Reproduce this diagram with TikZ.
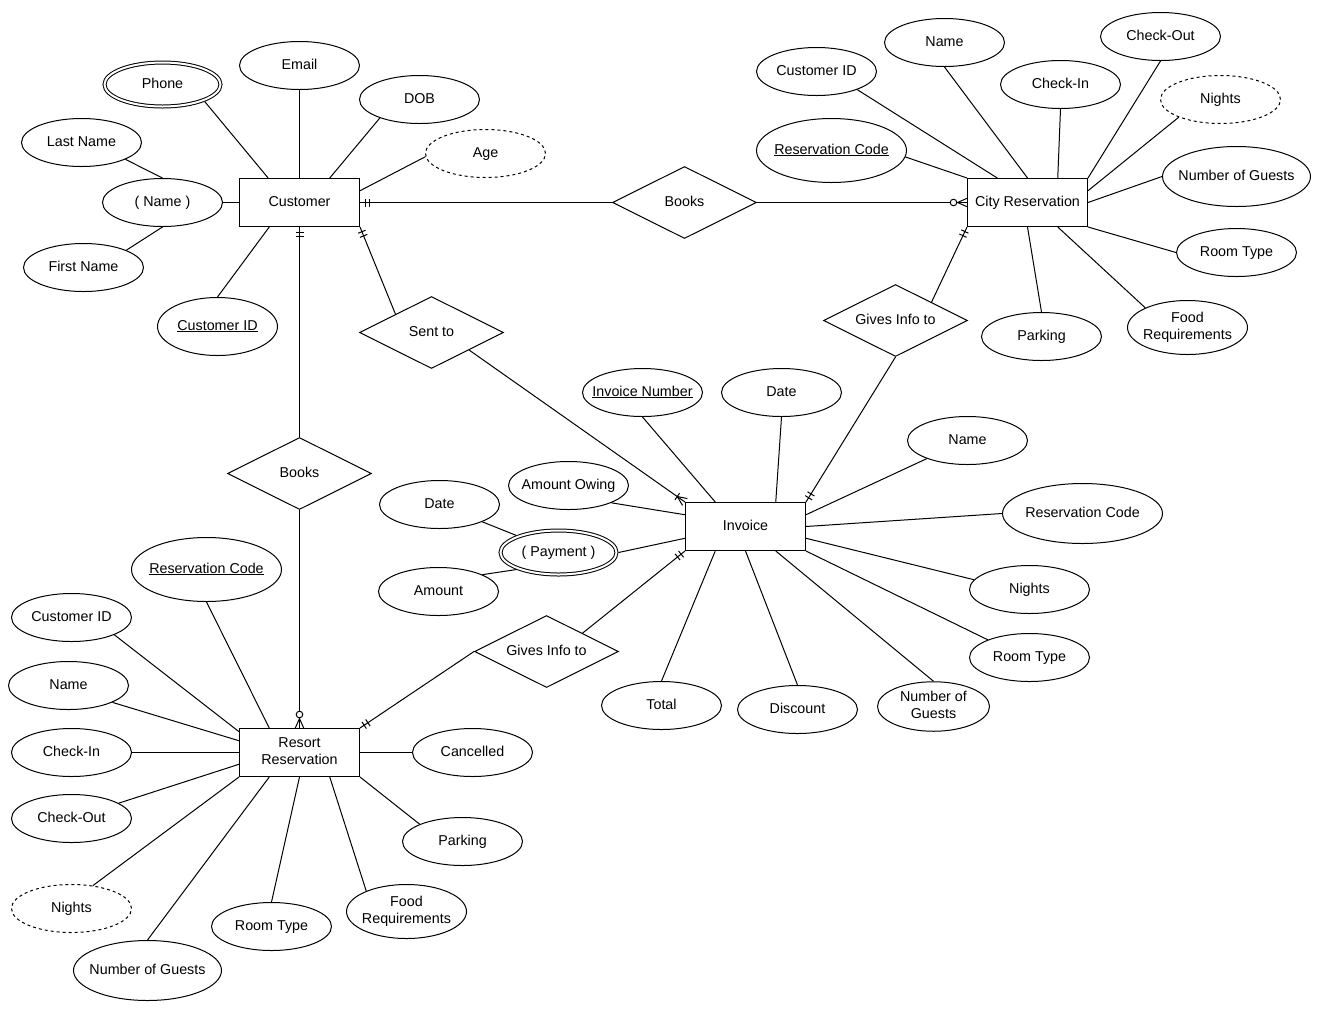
\documentclass[tikz,border=0pt]{standalone}
\usepackage{fontspec}
\setmainfont{Liberation Sans}
\usetikzlibrary{shapes.geometric,decorations.markings}
\newcommand\ntext[1]{\raisebox{-1.5pt}{\makebox[0pt]{\begin{tabular}{@{}c@{}}#1\end{tabular}}}}
\begin{document}
\begin{tikzpicture}[x=1pt,y=-1pt,line width=1pt,
  every node/.style={font=\fontsize{14.3}{17.5}\selectfont},
  ent/.style={draw,rectangle,minimum width=120pt,minimum height=48pt,inner sep=0pt},
  rel/.style={draw,diamond,aspect=2,minimum width=144pt,minimum height=72pt,inner sep=0pt},
  att/.style={draw,ellipse,minimum width=120pt,minimum height=48pt,inner sep=0pt},
  multi/.style={att,double,double distance=2pt,minimum width=116pt,minimum height=44pt,outer sep=2pt},
  derived/.style={att,dash pattern=on 3pt off 3pt},
  oneend/.style={postaction={decorate,decoration={markings,mark=at position 1 with {\draw[line width=1pt] (-5pt,-4pt)--(-5pt,4pt) (-9.5pt,-4pt)--(-9.5pt,4pt);}}}},
  zmanyend/.style={postaction={decorate,decoration={markings,mark=at position 1 with {\draw[line width=1pt] (-9.5pt,0pt)--(0pt,4.2pt) (-9.5pt,0pt)--(0pt,-4.2pt); \draw[line width=1pt,fill=white] (-13.5pt,0pt) circle (3.3pt);}}}},
  omanyend/.style={postaction={decorate,decoration={markings,mark=at position 1 with {\draw[line width=1pt] (-9.5pt,0pt)--(0pt,4.2pt) (-9.5pt,0pt)--(0pt,-4.2pt) (-9.5pt,-4pt)--(-9.5pt,4pt);}}}}
]
\useasboundingbox (0,0) rectangle (1320,1013);
\fill[white] (0,0) rectangle (1320,1013);
\begin{scope}[shift={(0.5,0.5)}]
% entities
\node[ent] (cust) at (299,202) {\ntext{Customer}};
\node[ent] (city) at (1027,202) {\ntext{City Reservation}};
\node[ent] (inv) at (745,526) {\ntext{Invoice}};
\node[ent] (res) at (299,752) {\ntext{Resort\\Reservation}};

% relationships
\node[rel] (bk1) at (684,202) {\ntext{Books}};
\node[rel] (snt) at (431,332) {\ntext{Sent to}};
\node[rel] (gv1) at (895,320) {\ntext{Gives Info to}};
\node[rel] (bk2) at (299,473) {\ntext{Books}};
\node[rel] (gv2) at (546,651) {\ntext{Gives Info to}};

% customer attributes
\node[multi] (phone) at (162,84) {\ntext{Phone}};
\node[att] (email) at (299,65) {\ntext{Email}};
\node[att] (dob) at (419,99) {\ntext{DOB}};
\node[derived] (age) at (485,153) {\ntext{Age}};
\node[att] (lname) at (81,142) {\ntext{Last Name}};
\node[att] (cname) at (162,202) {\ntext{( Name )}};
\node[att] (fname) at (83,267) {\ntext{First Name}};
\node[att,minimum height=58pt] (cid) at (217,326) {\ntext{\underline{Customer ID}}};

% city reservation attributes
\node[att] (ccid) at (816,71) {\ntext{Customer ID}};
\node[att] (cname2) at (944,42) {\ntext{Name}};
\node[att] (cin) at (1060,84) {\ntext{Check-In}};
\node[att] (cout) at (1160,36) {\ntext{Check-Out}};
\node[derived] (cnights) at (1220,99) {\ntext{Nights}};
\node[att,minimum width=150pt,minimum height=64pt] (crc) at (831,150) {\ntext{\underline{Reservation Code}}};
\node[att,minimum width=148pt,minimum height=60pt] (cnog) at (1236,176) {\ntext{Number of Guests}};
\node[att] (crt) at (1236,252) {\ntext{Room Type}};
\node[att,minimum height=54pt] (cfood) at (1187,327) {\ntext{Food\\Requirements}};
\node[att] (cpark) at (1041,336) {\ntext{Parking}};

% invoice attributes
\node[att] (inum) at (642,392) {\ntext{\underline{Invoice Number}}};
\node[att] (idate) at (781,392) {\ntext{Date}};
\node[att] (iname) at (967,440) {\ntext{Name}};
\node[att,minimum width=160pt,minimum height=60pt] (irc) at (1082,513) {\ntext{Reservation Code}};
\node[att] (inights) at (1029,589) {\ntext{Nights}};
\node[att] (irt) at (1029,657) {\ntext{Room Type}};
\node[att,minimum width=112pt] (inog) at (933,706) {\ntext{Number of\\Guests}};
\node[att] (idisc) at (797,709) {\ntext{Discount}};
\node[att] (itotal) at (661,705) {\ntext{Total}};
\node[att] (iao) at (568,485) {\ntext{Amount Owing}};
\node[multi] (ipay) at (558,552) {\ntext{( Payment )}};
\node[att] (ipdate) at (439,504) {\ntext{Date}};
\node[att] (iamt) at (438,591) {\ntext{Amount}};

% resort reservation attributes
\node[att,minimum width=150pt,minimum height=64pt] (rrc) at (206,569) {\ntext{\underline{Reservation Code}}};
\node[att] (rcid) at (71,617) {\ntext{Customer ID}};
\node[att] (rname) at (68,685) {\ntext{Name}};
\node[att] (rin) at (71,752) {\ntext{Check-In}};
\node[att] (rout) at (71,818) {\ntext{Check-Out}};
\node[derived] (rnights) at (71,908) {\ntext{Nights}};
\node[att,minimum width=148pt,minimum height=60pt] (rnog) at (147,970) {\ntext{Number of Guests}};
\node[att] (rrt) at (271,926) {\ntext{Room Type}};
\node[att,minimum height=54pt] (rfood) at (406,911) {\ntext{Food\\Requirements}};
\node[att] (rpark) at (462,841) {\ntext{Parking}};
\node[att] (rcanc) at (472,752) {\ntext{Cancelled}};

% customer attribute lines
\draw (phone.-22) -- (cust.142);
\draw (email.south) -- (cust.north);
\draw (dob.205) -- (cust.39);
\draw (age.183) -- (cust.11);
\draw (cname.east) -- (cust.west);
\draw (lname.-21) -- (cname.north);
\draw (fname.22) -- (cname.south);
\draw (cid.north) -- (cust.219);

% city attribute lines
\draw (ccid.-24) -- (city.141);
\draw (cname2.south) -- (city.north);
\draw (cin.south) -- (city.39);
\draw (cout.south) -- (city.north east);
\draw (cnights.203) -- (city.11);
\draw (crc.-5) -- (city.north west);
\draw (cnog.west) -- (city.east);
\draw (crt.west) -- (city.south east);
\draw (cfood.155) -- (city.-39);
\draw (cpark.north) -- (city.south);

% invoice attribute lines
\draw (inum.south) -- (inv.141);
\draw (idate.south) -- (inv.39);
\draw (iname.204) -- (inv.11);
\draw (irc.west) -- (inv.east);
\draw (inights.170) -- (inv.-11);
\draw (irt.157) -- (inv.south east);
\draw (inog.north) -- (inv.-39);
\draw (idisc.north) -- (inv.south);
\draw (itotal.north) -- (inv.-141);
\draw (iao.-22) -- (inv.169);
\draw (ipay.east) -- (inv.191);
\draw (ipdate.-22) -- (ipay.158);
\draw (iamt.21) -- (ipay.202);

% resort attribute lines
\draw (rrc.south) -- (res.141);
\draw (rcid.-22) -- (res.161);
\draw (rname.-21) -- (res.169);
\draw (rin.east) -- (res.west);
\draw (rout.18) -- (res.191);
\draw (rnights.47) -- (res.south west);
\draw (rnog.north) -- (res.219);
\draw (rrt.north) -- (res.south);
\draw (rfood.153) -- (res.-39);
\draw (rpark.158) -- (res.south east);
\draw (rcanc.west) -- (res.east);

% relationship lines
\draw[oneend] (bk1.west) -- (cust.east);
\draw[oneend] (bk2.north) -- (cust.south);
\draw[oneend] (snt.153) -- (cust.south east);
\draw[zmanyend] (bk1.east) -- (city.west);
\draw[oneend] (gv1.27) -- (city.south west);
\draw[oneend] (gv1.south) -- (inv.north east);
\draw[omanyend] (snt.-25) -- (inv.north west);
\draw[oneend] (gv2.27) -- (inv.south west);
\draw[oneend] (gv2.west) -- (res.north east);
\draw[zmanyend] (bk2.south) -- (res.north);
\end{scope}
\end{tikzpicture}
\end{document}
